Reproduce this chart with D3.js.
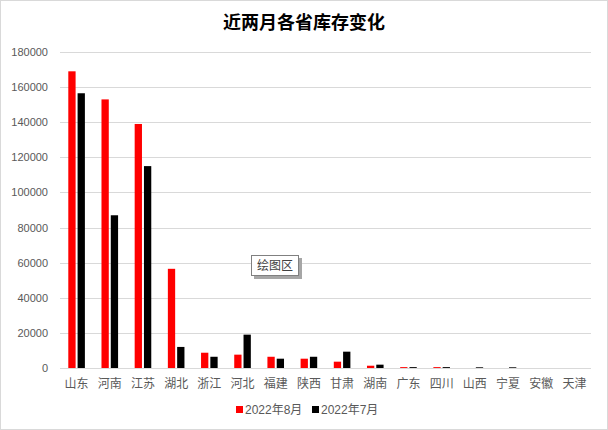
<!DOCTYPE html>
<html>
<head>
<meta charset="utf-8">
<script src="https://cdn.jsdelivr.net/npm/d3@7"></script>
<style>
  body { margin: 0; background: #fff; }
  text { font-family: "Liberation Sans", "Noto Sans CJK SC", sans-serif; }
</style>
</head>
<body>
<div id="chart"></div>
<script>
//Chart data
var provinces = ["山东", "河南", "江苏", "湖北", "浙江", "河北", "福建", "陕西", "甘肃", "湖南", "广东", "四川", "山西", "宁夏", "安徽", "天津"];
var seriesNames = ["2022年8月", "2022年7月"];
var augValues = [169000, 153000, 139000, 56500, 8700, 7600, 6400, 5300, 3600, 1300, 500, 500, 0, 0, 0, 0];
var julValues = [156500, 87000, 115000, 12000, 6400, 19000, 5300, 6400, 9300, 1900, 500, 500, 400, 400, 0, 0];
var yTicks = [0, 20000, 40000, 60000, 80000, 100000, 120000, 140000, 160000, 180000];
var seriesColors = ["#ff0000", "#000000"];

var width = 608, height = 430;
var margin = {top: 52, right: 17, bottom: 62, left: 60};
var innerW = width - margin.left - margin.right,
	innerH = height - margin.top - margin.bottom;

var svg = d3.select("#chart").append("svg")
	.attr("width", width)
	.attr("height", height);

//Outer chart border
svg.append("rect")
	.attr("x", 0.5).attr("y", 0.5)
	.attr("width", width - 1).attr("height", height - 1)
	.style("fill", "#fff")
	.style("stroke", "#d9d9d9");

//Title
svg.append("text")
	.attr("x", 304)
	.attr("y", 29)
	.attr("text-anchor", "middle")
	.style("font-family", "'Noto Sans CJK SC', sans-serif")
	.style("font-size", "18px")
	.style("font-weight", "bold")
	.style("fill", "#000")
	.text("近两月各省库存变化");

var g = svg.append("g")
	.attr("transform", "translate(" + margin.left + "," + margin.top + ")");

//Scales
var x0 = d3.scaleBand()
	.domain(provinces)
	.range([0, innerW])
	.padding(0);

var groupW = x0.bandwidth() * 0.5;
var x1 = d3.scaleBand()
	.domain(seriesNames)
	.range([(x0.bandwidth() - groupW) / 2, (x0.bandwidth() + groupW) / 2])
	.paddingInner(0.215);

var y = d3.scaleLinear()
	.domain([0, 180000])
	.range([innerH, 0]);

//Gridlines
g.selectAll(".grid")
	.data(yTicks)
	.enter().append("line")
	.attr("class", "grid")
	.attr("x1", 0).attr("x2", innerW)
	.attr("y1", function(d) { return Math.round(y(d)) + 0.5; })
	.attr("y2", function(d) { return Math.round(y(d)) + 0.5; })
	.style("stroke", "#d9d9d9")
	.style("stroke-width", 1);

//Y axis labels (plain numbers, no thousands separator)
var yAxis = d3.axisLeft(y).tickValues(yTicks).tickFormat(d3.format("d")).tickSize(0).tickPadding(12);
var yg = g.append("g").call(yAxis);
yg.select(".domain").remove();
yg.selectAll(".tick line").remove();
yg.selectAll("text")
	.style("font-size", "11px")
	.style("fill", "#595959");

//Bars
var data = provinces.map(function(p, i) {
	return {province: p, values: [augValues[i], julValues[i]]};
});

var groups = g.selectAll(".province")
	.data(data)
	.enter().append("g")
	.attr("class", "province")
	.attr("transform", function(d) { return "translate(" + x0(d.province) + ",0)"; });

groups.selectAll("rect")
	.data(function(d) { return d.values.map(function(v, i) { return {series: seriesNames[i], value: v, i: i}; }); })
	.enter().append("rect")
	.attr("x", function(d) { return x1(d.series); })
	.attr("width", x1.bandwidth())
	.attr("y", function(d) { return y(d.value); })
	.attr("height", function(d) { return innerH - y(d.value); })
	.style("fill", function(d) { return seriesColors[d.i]; });

//X axis
var xAxis = d3.axisBottom(x0).tickSize(0).tickPadding(11);
var xg = g.append("g")
	.attr("transform", "translate(0," + innerH + ")")
	.call(xAxis);
xg.select(".domain").remove();
xg.selectAll(".tick line").remove();
xg.append("line")
	.attr("x1", 0).attr("x2", innerW)
	.attr("y1", 0.5).attr("y2", 0.5)
	.style("stroke", "#d9d9d9");
xg.selectAll("text")
	.style("font-family", "'Noto Sans CJK SC', sans-serif")
	.style("font-size", "12px")
	.style("fill", "#595959");

//Legend
var legendItems = [{x: 236, label: seriesNames[0], color: seriesColors[0]},
	{x: 312, label: seriesNames[1], color: seriesColors[1]}];
var legend = svg.selectAll(".legend")
	.data(legendItems)
	.enter().append("g")
	.attr("class", "legend")
	.attr("transform", function(d) { return "translate(" + d.x + ",410)"; });
legend.append("rect")
	.attr("x", 0).attr("y", -4)
	.attr("width", 7).attr("height", 7)
	.style("fill", function(d) { return d.color; });
legend.append("text")
	.attr("x", 9)
	.attr("dy", "0.35em")
	.style("font-family", "'Liberation Sans', 'Noto Sans CJK SC', sans-serif")
	.style("font-size", "12px")
	.style("fill", "#595959")
	.text(function(d) { return d.label; });

//Hover tooltip left in the screenshot
var tip = svg.append("g").attr("transform", "translate(251,255)");
tip.append("rect")
	.attr("x", 3).attr("y", 3)
	.attr("width", 48).attr("height", 21)
	.style("fill", "#a6a6a6");
tip.append("rect")
	.attr("x", 0.5).attr("y", 0.5)
	.attr("width", 47).attr("height", 20)
	.style("fill", "#fff")
	.style("stroke", "#808080");
tip.append("text")
	.attr("x", 24).attr("y", 10.5)
	.attr("dy", "0.35em")
	.attr("text-anchor", "middle")
	.style("font-family", "'Noto Sans CJK SC', sans-serif")
	.style("font-size", "12px")
	.style("fill", "#404040")
	.text("绘图区");
</script>
</body>
</html>
